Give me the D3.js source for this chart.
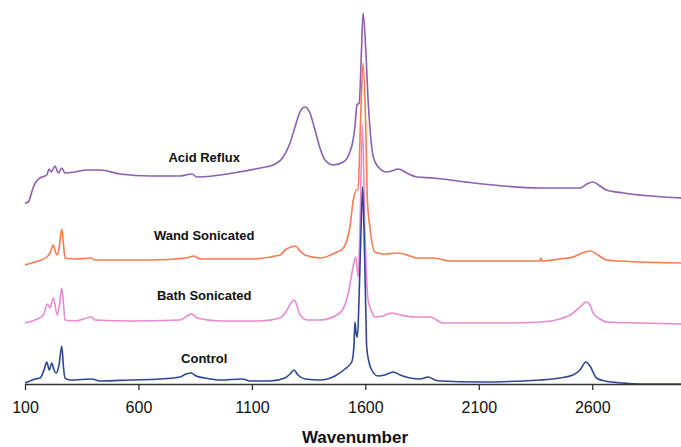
<!DOCTYPE html>
<html>
<head>
<meta charset="utf-8">
<script src="https://cdn.jsdelivr.net/npm/d3@7"></script>
<style>
  body { margin: 0; background: #fff; }
  svg { display: block; }
  .lbl { font-family: "Liberation Sans", Arial, sans-serif; font-weight: bold; font-size: 13px; fill: #111; }
  .tick text { font-family: "Liberation Sans", Arial, sans-serif; font-size: 16px; fill: #111; }
</style>
</head>
<body>
<svg id="chart" width="681" height="447"></svg>
<script>
// spectra: [wavenumber, intensity (a.u., offset included)]
var control = [[100,1],[122,3],[144,5],[166,6],[184,14],[196,22],[207,14],[218,21],[228,14],[237,11],[250,19],[262,38],[270,16],[276,6],[298,4],[394,5],[431,3],[563,4],[695,5],[783,7],[810,10],[832,11],[854,8],[893,6],[959,4],[1059,5],[1092,3],[1180,3],[1246,6],[1268,10],[1285,14],[1303,9],[1334,5],[1400,4],[1466,8],[1510,15],[1540,22],[1550,39],[1554,62],[1560,50],[1565,47],[1572,84],[1581,154],[1588,197],[1594,154],[1601,84],[1606,37],[1616,22],[1628,14],[1656,8],[1686,9],[1723,12],[1753,9],[1797,6],[1841,5],[1877,7],[1907,4],[1929,3],[2105,2],[2370,4],[2458,6],[2515,9],[2546,14],[2572,22],[2590,18],[2619,6],[2656,3],[2735,1],[2810,0],[3000,0]];

var bath = [[100,61],[144,64],[181,69],[198,80],[210,76],[225,86],[242,69],[252,79],[262,96],[270,79],[276,64],[320,63],[394,67],[408,64],[563,63],[783,64],[814,68],[835,70],[858,66],[959,63],[1136,63],[1224,66],[1255,74],[1272,81],[1287,84],[1299,78],[1312,69],[1347,64],[1400,64],[1488,71],[1525,91],[1545,116],[1557,127],[1569,107],[1576,154],[1587,259],[1598,154],[1612,84],[1625,74],[1642,67],[1678,68],[1716,71],[1753,69],[1825,67],[1853,67],[1885,67],[1943,61],[2193,61],[2370,62],[2458,65],[2516,71],[2546,77],[2575,82],[2590,79],[2604,71],[2634,65],[2663,62],[2810,61],[3000,60]];

var wand = [[100,119],[144,122],[196,127],[210,131],[225,139],[234,132],[242,129],[252,139],[262,155],[270,139],[276,126],[320,125],[394,126],[408,124],[651,124],[810,126],[845,128],[871,125],[1092,125],[1224,129],[1246,134],[1272,137],[1293,138],[1312,133],[1334,129],[1400,126],[1466,131],[1503,136],[1532,157],[1547,184],[1562,194],[1568,194],[1579,264],[1590,321],[1601,264],[1609,184],[1620,157],[1642,132],[1686,130],[1745,131],[1797,128],[1825,126],[1899,126],[1973,123],[2370,123],[2374,126],[2379,123],[2458,125],[2516,127],[2555,131],[2593,133],[2625,129],[2663,124],[2810,122],[3000,121]];

var acid = [[100,181],[115,182],[126,189],[137,197],[148,202],[166,206],[196,209],[206,215],[215,212],[232,218],[247,211],[262,216],[276,211],[320,212],[372,214],[431,214],[519,210],[651,208],[783,208],[810,209],[835,210],[858,207],[1017,211],[1136,216],[1194,219],[1238,227],[1268,241],[1290,257],[1312,272],[1334,277],[1356,271],[1378,254],[1400,236],[1422,224],[1459,219],[1503,222],[1532,232],[1546,244],[1554,257],[1563,279],[1573,281],[1583,334],[1590,371],[1602,334],[1612,284],[1620,257],[1635,227],[1657,217],[1694,212],[1717,213],[1745,215],[1782,211],[1826,207],[1899,206],[2076,201],[2370,196],[2546,196],[2577,200],[2604,202],[2634,198],[2663,194],[2737,191],[3000,186]];

var seriesNames = ["Acid Reflux", "Wand Sonicated", "Bath Sonicated", "Control"];
var seriesData = [acid, wand, bath, control];
var seriesColors = ["#8d5fb0", "#f77a50", "#e68ad2", "#2c4796"];
var labelAt = [[1000, 222], [1000, 144], [1000, 84], [1000, 21]];   // label anchor (wavenumber, intensity)
var tickValues = [100, 600, 1100, 1600, 2100, 2600];

var svg = d3.select("#chart");
var x = d3.scaleLinear().domain([100, 3000]).range([25, 683]);
var y = d3.scaleLinear().domain([0, 371]).range([384, 13]);

var line = d3.line()
  .x(function(d) { return x(d[0]); })
  .y(function(d) { return y(d[1]); })
  .curve(d3.curveMonotoneX);

svg.selectAll("path.spec")
  .data(seriesData)
  .enter().append("path")
  .attr("class", "spec")
  .attr("d", line)
  .attr("fill", "none")
  .attr("stroke", function(d, i) { return seriesColors[i]; })
  .attr("stroke-width", 1.6)
  .attr("stroke-linejoin", "round");

svg.selectAll("text.lbl")
  .data(seriesNames)
  .enter().append("text")
  .attr("class", "lbl")
  .attr("x", function(d, i) { return x(labelAt[i][0]) - 25; })
  .attr("y", function(d, i) { return y(labelAt[i][1]); })
  .attr("text-anchor", "middle")
  .text(function(d) { return d; });

var axis = svg.append("g")
  .attr("transform", "translate(0," + y(0) + ")")
  .call(d3.axisBottom(x).tickValues(tickValues).tickFormat(d3.format("d"))
    .tickSize(6).tickSizeOuter(0).tickPadding(12));
axis.select(".domain").attr("stroke", "#333").attr("stroke-width", 1.3);
axis.selectAll(".tick line").attr("stroke", "#333").attr("stroke-width", 1.3);
axis.selectAll(".tick text").attr("font-size", null).attr("font-family", null);

svg.append("text")
  .attr("x", 355)
  .attr("y", 443)
  .attr("text-anchor", "middle")
  .style("font-family", "'Liberation Sans', Arial, sans-serif")
  .style("font-weight", "bold")
  .style("font-size", "17px")
  .style("fill", "#111")
  .text("Wavenumber");
</script>
</body>
</html>
